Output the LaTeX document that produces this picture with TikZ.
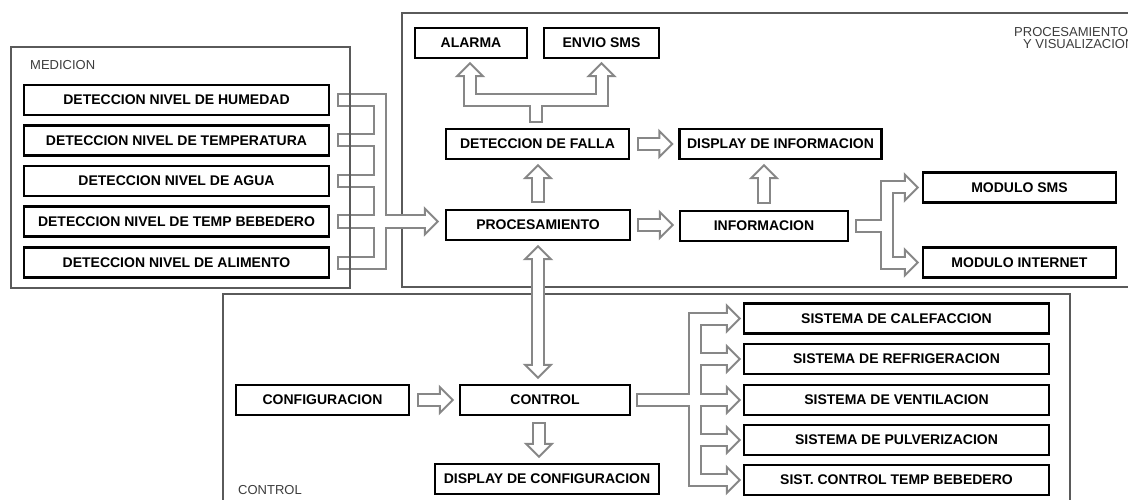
\documentclass[tikz,border=0pt]{standalone}
\usepackage{fontspec}
\setmainfont{Liberation Sans}
\usetikzlibrary{calc}
\definecolor{ag}{HTML}{878787}
\definecolor{pg}{HTML}{5A5A5A}
\definecolor{lg}{HTML}{3C3C3C}
\tikzset{
 box/.style={draw=black, line width=2.4, fill=white, minimum height=30, inner sep=0, font=\bfseries\fontsize{14}{16}\selectfont},
 panel/.style={draw=pg, line width=1.2},
 plabel/.style={text=lg, font=\fontsize{13}{15}\selectfont, inner sep=0, anchor=base west},
 ashaft/.style={draw=ag, line width=14, line join=miter, line cap=butt},
 ainner/.style={draw=white, line width=10, line join=miter, line cap=butt},
 ahead/.style={fill=white, draw=ag, line width=2, line join=miter},
}
% head: tip, dx, dy (unit direction)
\newcommand{\ahd}[3]{\filldraw[ahead] (#1) -- ++({-13*(#2)+13*(#3)},{-13*(#3)-13*(#2)}) -- ++({-26*(#3)},{26*(#2)}) -- cycle;}
% simple hollow arrow: start, tip, dx, dy
\newcommand{\sarr}[4]{%
 \ahd{#2}{#3}{#4}
 \draw[ashaft] (#1) -- ($(#2)+({-13*(#3)},{-13*(#4)})$);
 \draw[ainner] ($(#1)+({2*(#3)},{2*(#4)})$) -- ($(#2)+({-11*(#3)},{-11*(#4)})$);}
\begin{document}
\begin{tikzpicture}[x=1pt,y=-1pt]
\useasboundingbox (0,0) rectangle (1128,500);
\clip (0,0) rectangle (1128,500);
% panels (back)
\draw[panel] (402,13) rectangle (1145,287);
\draw[panel] (223,294) rectangle (1070,510);
\node[plabel] (lpro1) at (1014,37) {PROCESAMIENTO};
\node[plabel] (lpro2) at (1023,48.5) {Y VISUALIZACION};
\node[plabel] (lctl) at (238,494) {CONTROL};
\node[plabel] (lmed) at (30,70) {MEDICION};
% medicion boxes
\node[box, minimum width=305] (h1) at (176.5,100) {DETECCION NIVEL DE HUMEDAD};
\node[box, minimum width=305] (h2) at (176.5,140.5) {DETECCION NIVEL DE TEMPERATURA};
\node[box, minimum width=305] (h3) at (176.5,181) {DETECCION NIVEL DE AGUA};
\node[box, minimum width=305] (h4) at (176.5,221.5) {DETECCION NIVEL DE TEMP BEBEDERO};
\node[box, minimum width=305] (h5) at (176.5,262.5) {DETECCION NIVEL DE ALIMENTO};
% procesamiento boxes
\node[box, minimum width=112] (alarma) at (471,43) {ALARMA};
\node[box, minimum width=115] (envio) at (601.5,43) {ENVIO SMS};
\node[box, minimum width=183] (df) at (537.5,144) {DETECCION DE FALLA};
\node[box, minimum width=202] (dispinfo) at (780.5,144) {DISPLAY DE INFORMACION};
\node[box, minimum width=184] (proc) at (538,225) {PROCESAMIENTO};
\node[box, minimum width=168] (info) at (764,226) {INFORMACION};
\node[box, minimum width=193] (msms) at (1019.5,187.5) {MODULO SMS};
\node[box, minimum width=193] (minet) at (1019.5,262.5) {MODULO INTERNET};
% control boxes
\node[box, minimum width=173] (config) at (322.5,400) {CONFIGURACION};
\node[box, minimum width=170] (control) at (545,400) {CONTROL};
\node[box, minimum width=224] (dispconf) at (547,479) {DISPLAY DE CONFIGURACION};
\node[box, minimum width=305] (s1) at (896.5,318.5) {SISTEMA DE CALEFACCION};
\node[box, minimum width=305] (s2) at (896.5,359) {SISTEMA DE REFRIGERACION};
\node[box, minimum width=305] (s3) at (896.5,400) {SISTEMA DE VENTILACION};
\node[box, minimum width=305] (s4) at (896.5,440) {SISTEMA DE PULVERIZACION};
\node[box, minimum width=305] (s5) at (896.5,480) {SIST. CONTROL TEMP BEBEDERO};

% ---- simple arrows
\coordinate (a1s) at ($(df.east)+(7,0)$);
\coordinate (a1t) at ($(dispinfo.west)+(-6,0)$);
\sarr{a1s}{a1t}{1}{0}
\coordinate (a2s) at ($(proc.north)+(0,-6)$);
\coordinate (a2t) at ($(proc.north |- df.south)+(0,5)$);
\sarr{a2s}{a2t}{0}{-1}
\coordinate (a3s) at ($(proc.east)+(6,0)$);
\coordinate (a3t) at ($(info.west |- proc.east)+(-6,0)$);
\sarr{a3s}{a3t}{1}{0}
\coordinate (a4s) at ($(info.north)+(0,-6)$);
\coordinate (a4t) at ($(info.north |- dispinfo.south)+(0,5)$);
\sarr{a4s}{a4t}{0}{-1}
\coordinate (a5s) at ($(config.east)+(7,0)$);
\coordinate (a5t) at ($(control.west |- config.east)+(-6,0)$);
\sarr{a5s}{a5t}{1}{0}
\coordinate (a6s) at ($(control.south)+(-6,6)$);
\coordinate (a6t) at ($(a6s |- dispconf.north)+(0,-6)$);
\sarr{a6s}{a6t}{0}{1}

% ---- double arrow PROC <-> CONTROL
\coordinate (d1) at ($(proc.south)+(0,5)$);
\coordinate (d2) at ($(proc.south |- control.north)+(0,-6)$);
\ahd{d1}{0}{-1}
\ahd{d2}{0}{1}
\draw[ashaft] ($(d1)+(0,13)$) -- ($(d2)+(0,-13)$);
\draw[ainner] ($(d1)+(0,11)$) -- ($(d2)+(0,-11)$);

% ---- bracket MEDICION -> PROC
\foreach \k in {1,...,5}{
  \coordinate (m\k) at ($(h\k.east)+(7,0)$);
  \coordinate (t\k) at ($(h\k.east)+(50,0)$);
}
\coordinate (bt) at ($(proc.west |- h4.east)+(-7,0)$);
\ahd{bt}{1}{0}
\draw[ashaft] (m1) -- (t1) -- (t5) -- (m5);
\draw[ashaft] (m2) -- (t2);
\draw[ashaft] (m3) -- (t3);
\draw[ashaft] (m4) -- ($(bt)+(-13,0)$);
\draw[ainner] ($(m1)+(2,0)$) -- (t1) -- (t5) -- ($(m5)+(2,0)$);
\draw[ainner] ($(m2)+(2,0)$) -- (t2);
\draw[ainner] ($(m3)+(2,0)$) -- (t3);
\draw[ainner] ($(m4)+(2,0)$) -- ($(bt)+(-11,0)$);

% ---- DF -> ALARMA, ENVIO SMS
\coordinate (ust) at ($(df.north)+(-1.5,-5)$);
\coordinate (ub) at ($(df.north)+(-1.5,-28)$);
\coordinate (ut1) at ($(alarma.south)+(-1,4)$);
\coordinate (ut2) at ($(envio.south)+(0,4)$);
\ahd{ut1}{0}{-1}
\ahd{ut2}{0}{-1}
\draw[ashaft] ($(ut1)+(0,13)$) -- (ut1 |- ub) -- (ut2 |- ub) -- ($(ut2)+(0,13)$);
\draw[ashaft] (ust) -- (ub);
\draw[ainner] ($(ut1)+(0,11)$) -- (ut1 |- ub) -- (ut2 |- ub) -- ($(ut2)+(0,11)$);
\draw[ainner] ($(ust)+(0,-2)$) -- (ub);

% ---- INFO -> MODULOS
\coordinate (ist) at ($(info.east)+(6,0)$);
\coordinate (itr) at ($(info.east)+(38,0)$);
\coordinate (it1) at ($(msms.west)+(-4,0)$);
\coordinate (it2) at ($(minet.west)+(-4,0)$);
\ahd{it1}{1}{0}
\ahd{it2}{1}{0}
\draw[ashaft] ($(it1)+(-13,0)$) -- (itr |- it1) -- (itr |- it2) -- ($(it2)+(-13,0)$);
\draw[ashaft] (ist) -- (itr);
\draw[ainner] ($(it1)+(-11,0)$) -- (itr |- it1) -- (itr |- it2) -- ($(it2)+(-11,0)$);
\draw[ainner] ($(ist)+(2,0)$) -- (itr);

% ---- CONTROL -> SISTEMAS
\coordinate (cst) at ($(control.east)+(5,0)$);
\coordinate (ctr) at ($(control.east)+(63.5,0)$);
\foreach \k in {1,...,5}{
  \coordinate (ct\k) at ($(s\k.west)+(-3,0)$);
  \ahd{ct\k}{1}{0}
}
\draw[ashaft] ($(ct1)+(-13,0)$) -- (ctr |- ct1) -- (ctr |- ct5) -- ($(ct5)+(-13,0)$);
\draw[ashaft] (cst) -- (ctr);
\foreach \k in {2,3,4}{\draw[ashaft] (ctr |- ct\k) -- ($(ct\k)+(-13,0)$);}
\draw[ainner] ($(ct1)+(-11,0)$) -- (ctr |- ct1) -- (ctr |- ct5) -- ($(ct5)+(-11,0)$);
\draw[ainner] ($(cst)+(2,0)$) -- (ctr);
\foreach \k in {2,3,4}{\draw[ainner] (ctr |- ct\k) -- ($(ct\k)+(-11,0)$);}

% medicion panel (front)
\draw[panel] (11,47) rectangle (350,288);
\end{tikzpicture}
\end{document}
